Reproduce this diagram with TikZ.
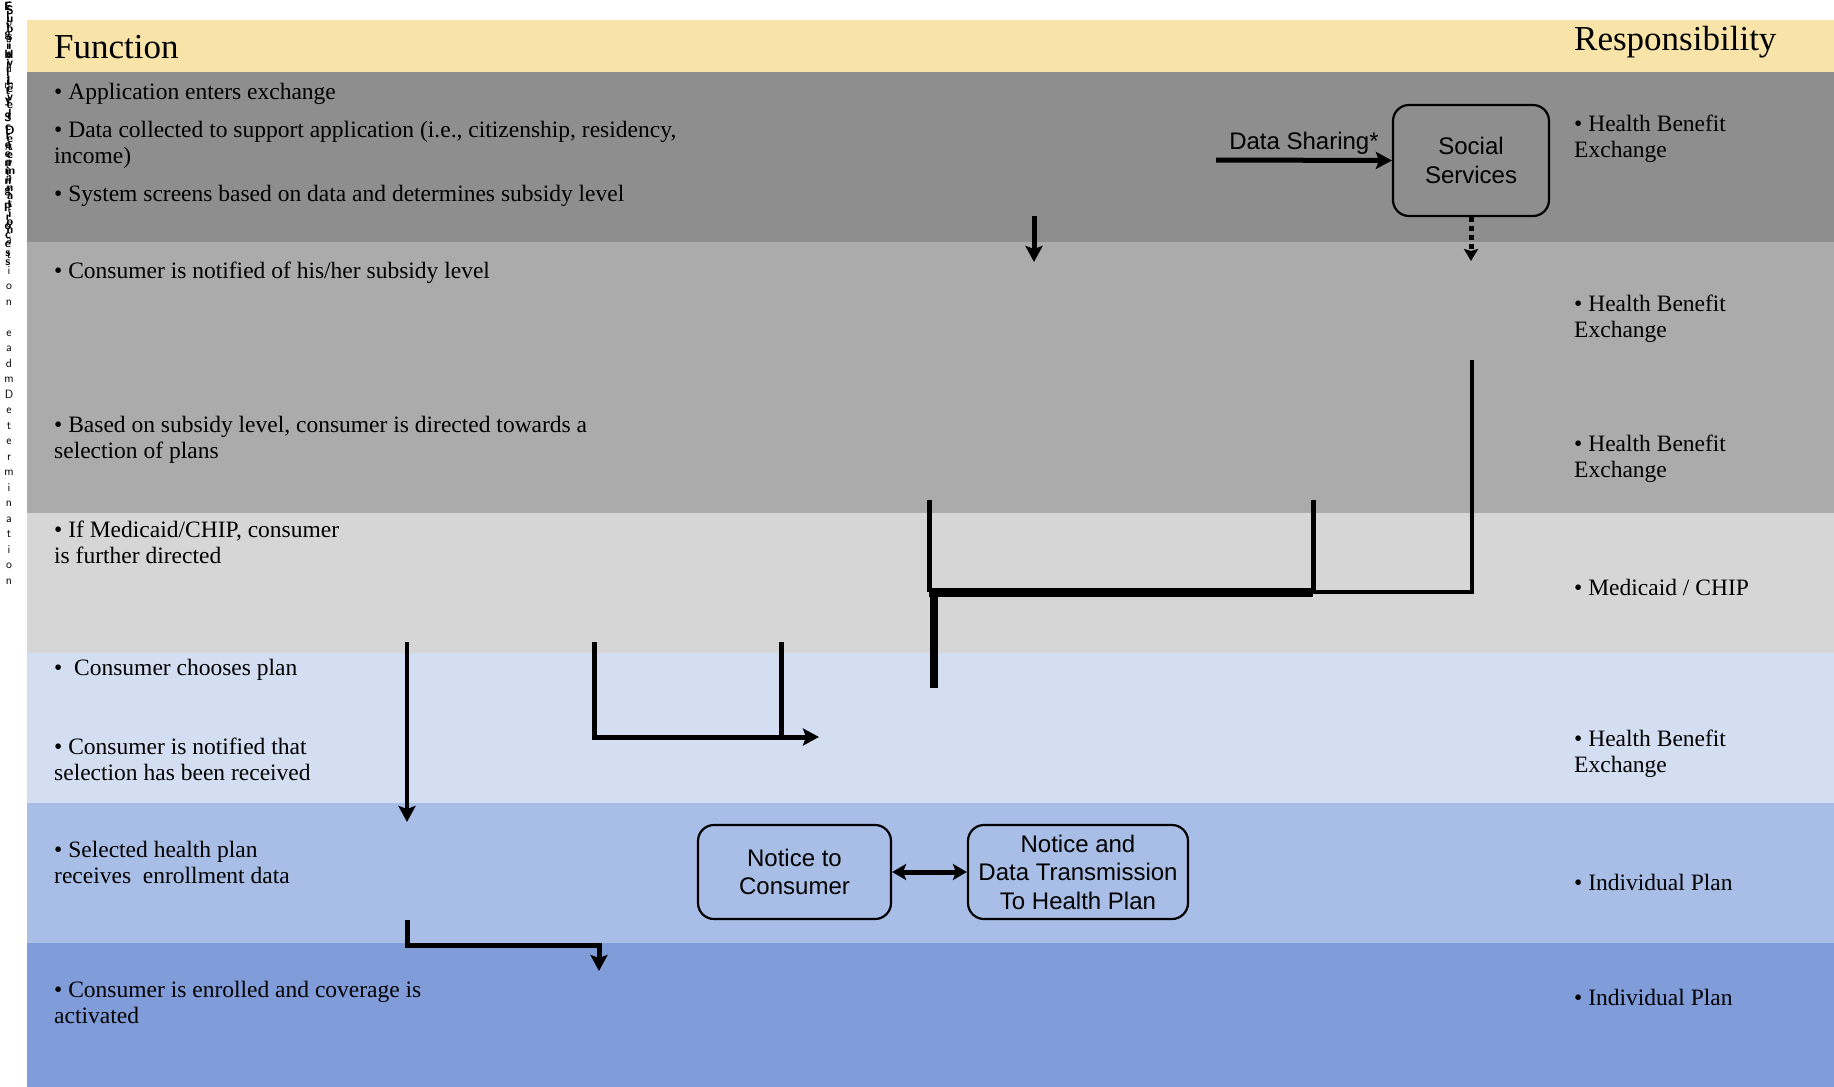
\documentclass[tikz,border=0pt]{standalone}
\usepackage{fontspec}
\setmainfont{Liberation Serif}
\newfontfamily\boxfont{Liberation Sans}
\usetikzlibrary{arrows.meta}
\definecolor{bYel}{HTML}{F8E3A8}
\definecolor{bGrayA}{HTML}{8E8E8E}
\definecolor{bGrayB}{HTML}{ABABAB}
\definecolor{bGrayC}{HTML}{D6D6D6}
\definecolor{bBlueA}{HTML}{D4DEF2}
\definecolor{bBlueB}{HTML}{A9BEE7}
\definecolor{bBlueC}{HTML}{809DDA}
\begin{document}
\begin{tikzpicture}[x=1pt,y=-1pt,
  txt/.style={anchor=west, align=left, inner sep=0pt, font=\fontsize{23.5}{26}\selectfont},
  hdr/.style={anchor=west, inner sep=0pt, font=\fontsize{35}{40}\selectfont},
  pbox/.style={draw=black, line width=2.2pt, rounded corners=16pt, align=center, font=\boxfont\fontsize{24}{28.5}\selectfont, inner sep=0pt},
  conn/.style={line width=5pt, draw=black},
  tip/.style={-{Stealth[length=16pt,width=17pt,inset=3pt]}},
  stack/.style={align=center, inner sep=0pt, anchor=north}
]
\useasboundingbox (0,0) rectangle (1834,1087);
\fill[white] (0,0) rectangle (1834,1087);
% bands
\fill[bYel]   (27,20)  rectangle (1834,72);
\fill[bGrayA] (27,72)  rectangle (1834,242);
\fill[bGrayB] (27,242) rectangle (1834,513);
\fill[bGrayC] (27,513) rectangle (1834,653);
\fill[bBlueA] (27,653) rectangle (1834,803);
\fill[bBlueB] (27,803) rectangle (1834,943);
\fill[bBlueC] (27,943) rectangle (1834,1087);

% garbled vertical stacks at left edge
\node[stack, font=\sffamily\fontsize{12}{15.5}\selectfont] (vs1) at (9,2)
 {C\\o\\n\\s\\u\\m\\e\\r\\~\\A\\p\\p\\l\\i\\c\\a\\t\\i\\o\\n\\~\\e\\a\\d\\m\\D\\e\\t\\e\\r\\m\\i\\n\\a\\t\\i\\o\\n};
\node[stack, font=\sffamily\bfseries\fontsize{12}{9}\selectfont] (vs2) at (8,2)
 {E\\l\\i\\g\\i\\b\\i\\l\\i\\t\\y\\~\\S\\c\\r\\e\\e\\n\\i\\n\\g\\~\\P\\r\\o\\c\\e\\s\\s};
\node[stack, font=\sffamily\bfseries\fontsize{12}{8}\selectfont] (vs3) at (10,6)
 {S\\u\\b\\s\\i\\d\\y\\~\\L\\e\\v\\e\\l\\~\\D\\e\\t\\e\\r\\m\\i\\n\\a\\t\\i\\o\\n};

% headers
\node[hdr] (hfun) at (54,47) {Function};
\node[hdr] (hres) at (1574,42) {Responsibility};

% function column
\node[txt] (f1) at (54,94) {• Application enters exchange};
\node[txt] (f2) at (54,145) {• Data collected to support application (i.e., citizenship, residency,\\income)};
\node[txt] (f3) at (54,196) {• System screens based on data and determines subsidy level};
\node[txt] (f4) at (54,273) {• Consumer is notified of his/her subsidy level};
\node[txt] (f5) at (54,439.5) {• Based on subsidy level, consumer is directed towards a\\selection of plans};
\node[txt] (f6) at (54,542) {• If Medicaid/CHIP, consumer\\is further directed};
\node[txt] (f7) at (54,670) {•\ \ Consumer chooses plan};
\node[txt] (f8) at (54,759.5) {• Consumer is notified that\\selection has been received};
\node[txt] (f9) at (54,862) {• Selected health plan\\receives\ \ enrollment data};
\node[txt] (f10) at (54,1002) {• Consumer is enrolled and coverage is\\activated};

% responsibility column
\node[txt] (r1) at (1574,139) {• Health Benefit\\Exchange};
\node[txt] (r2) at (1574,319) {• Health Benefit\\Exchange};
\node[txt] (r3) at (1574,459) {• Health Benefit\\Exchange};
\node[txt] (r4) at (1574,587) {• Medicaid / CHIP};
\node[txt] (r5) at (1574,753.5) {• Health Benefit\\Exchange};
\node[txt] (r6) at (1574,882) {• Individual Plan};
\node[txt] (r7) at (1574,997) {• Individual Plan};

% boxes
\node[pbox, minimum width=156pt, minimum height=111pt] (ss) at (1471,160.5) {Social\\Services};
\node[pbox, minimum width=193pt, minimum height=94pt] (nc) at (794.5,872) {Notice to\\Consumer};
\node[pbox, minimum width=220pt, minimum height=94pt] (nd) at (1078,872) {Notice and\\Data Transmission\\To Health Plan};

% data sharing
\coordinate (dsS) at (1216,160);
\draw[conn, tip] (dsS) -- (ss.west)
  node[midway, above=3pt, font=\boxfont\fontsize{24}{26}\selectfont, inner sep=0pt] (dsl) {Data Sharing*};

% dotted arrow below social services
\coordinate (ssD) at (1471,261);
\draw[line width=5pt, dash pattern=on 5pt off 4pt, -{Stealth[length=12pt,width=14pt,inset=2pt]}] (ss.south) -- (ssD);

% down arrow from screening
\coordinate (a1S) at (1034,216);
\coordinate (a1E) at (1034,262);
\draw[conn, tip] (a1S) -- (a1E);

% big connector
\coordinate (bA) at (1472,360);
\coordinate (bB) at (1472,592);
\coordinate (bC) at (1313,592);
\coordinate (bD) at (929,592);
\coordinate (bE) at (1313,500);
\coordinate (bF) at (929,500);
\coordinate (bG) at (934,592);
\coordinate (bH) at (934,688);
\draw[conn, line width=4.5pt] (bA) -- (bB) -- (bC);
\draw[conn, line width=9pt] (bC) -- (bD);
\draw[conn] (bE) -- (bC);
\draw[conn] (bF) -- (bD);
\draw[conn, line width=8pt] (bG) -- (bH);

% left arrows
\coordinate (lA) at (407,642);
\coordinate (lB) at (407,822);
\draw[conn, line width=4.5pt, tip] (lA) -- (lB);

\coordinate (uA) at (594,642);
\coordinate (uB) at (594,737);
\coordinate (uC) at (819,737);
\coordinate (uD) at (781,642);
\coordinate (uE) at (781,737);
\draw[conn, tip] (uA) -- (uB) -- (uC);
\draw[conn] (uD) -- (uE);

\coordinate (gA) at (407,920);
\coordinate (gB) at (407,945);
\coordinate (gC) at (599,945);
\coordinate (gD) at (599,971);
\draw[conn, tip] (gA) -- (gB) -- (gC) -- (gD);

% double arrow
\draw[conn, {Stealth[length=14pt,width=16pt,inset=3pt]}-{Stealth[length=14pt,width=16pt,inset=3pt]}] (nc.east) -- (nd.west);
\end{tikzpicture}
\end{document}
